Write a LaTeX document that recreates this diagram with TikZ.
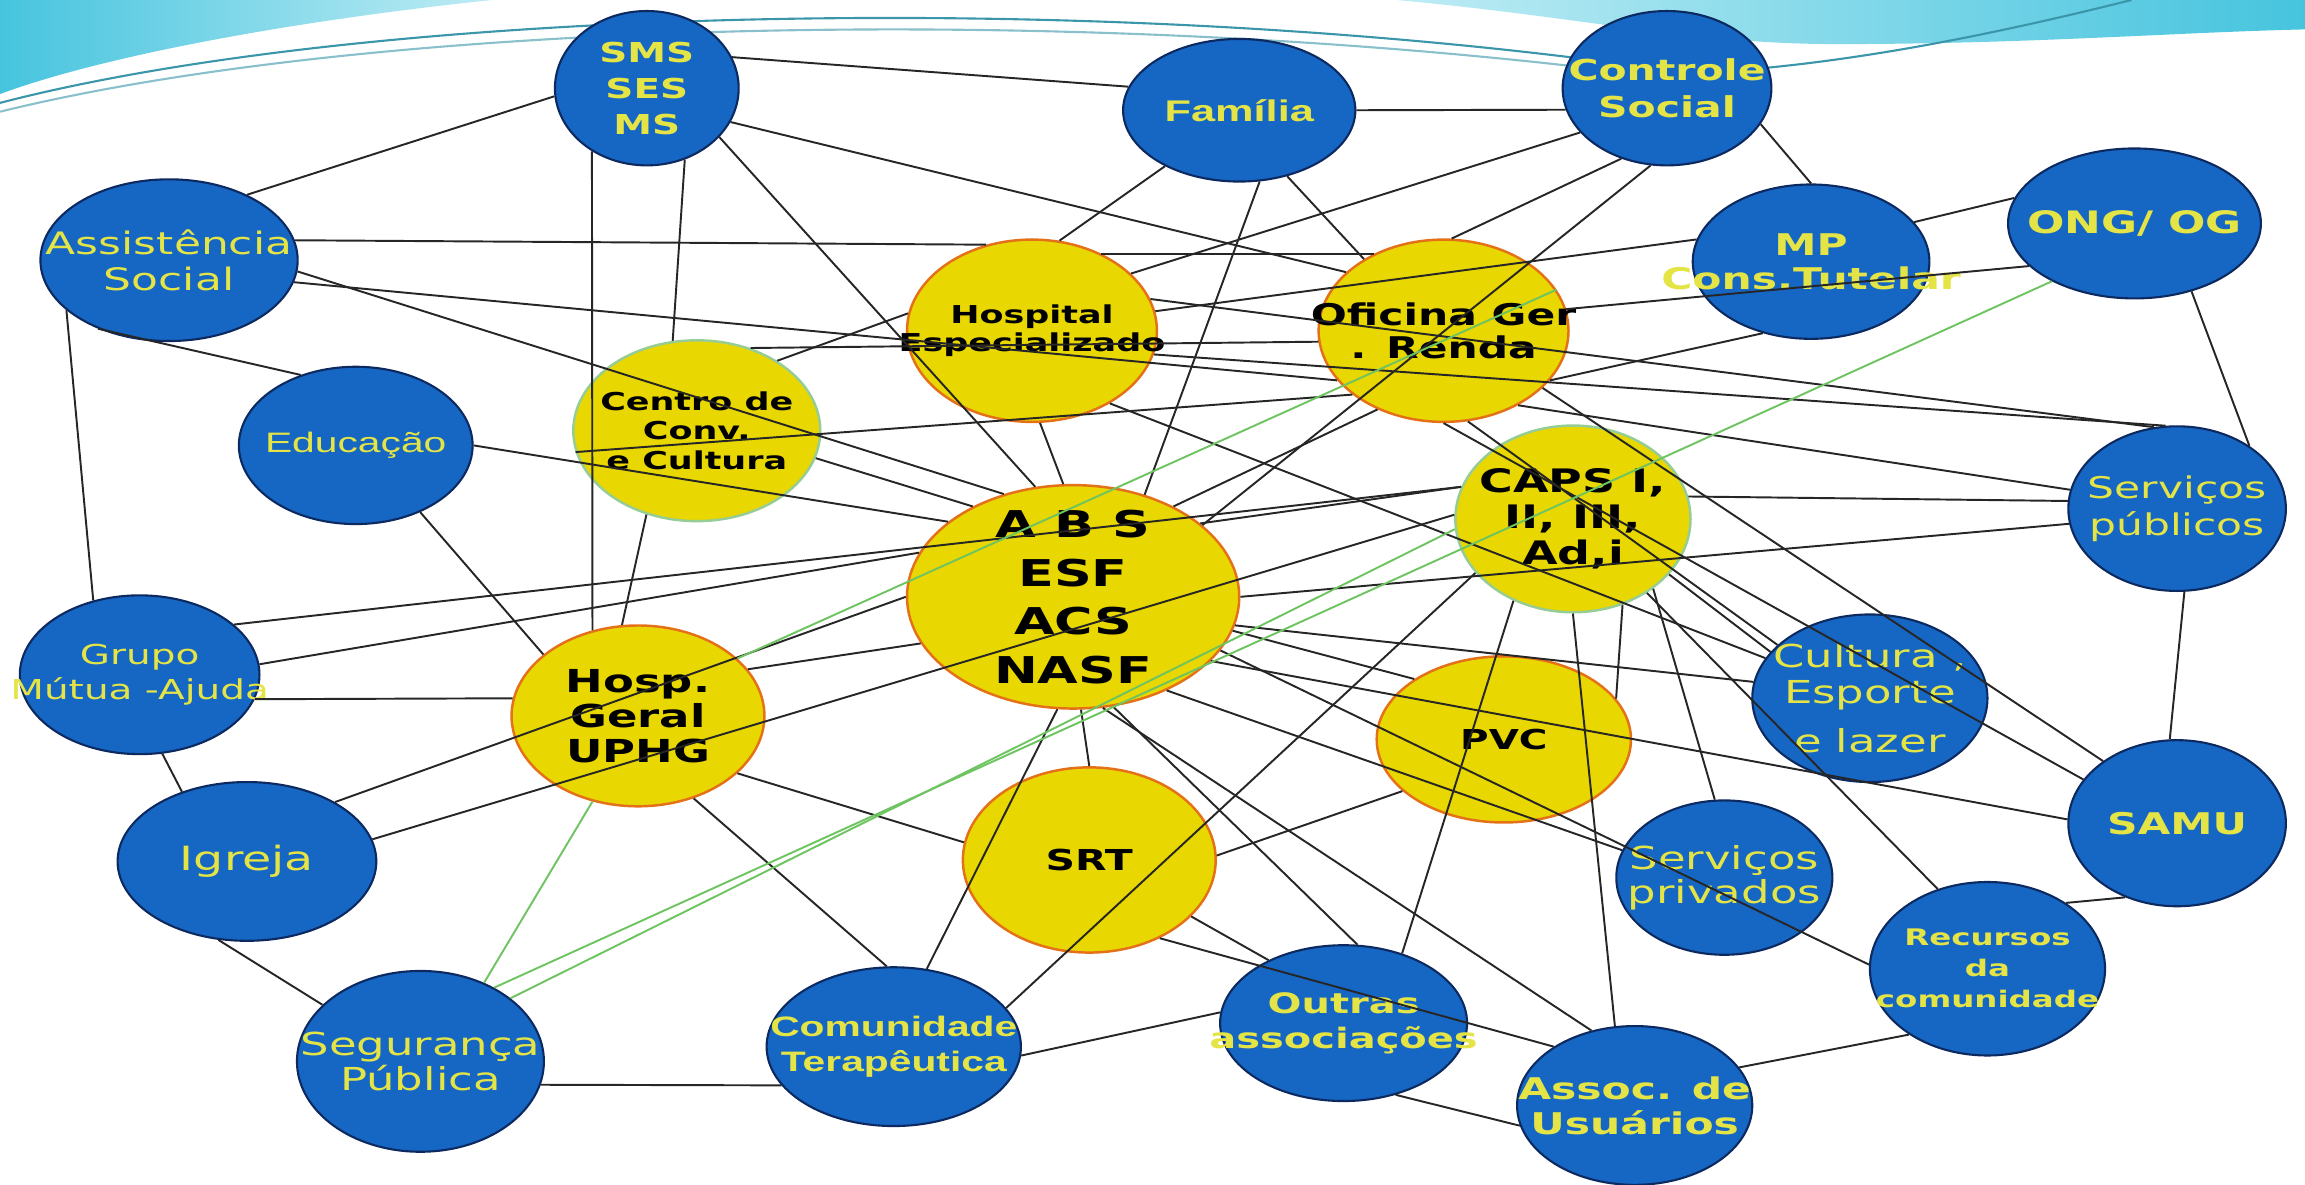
\documentclass[tikz,border=0pt]{standalone}
\usepackage{fontspec}
\usepackage{tikz}
\usetikzlibrary{shapes.geometric}
\newfontfamily\vfont[FakeStretch=1.42]{DejaVu Sans}
\newfontfamily\afont[FakeStretch=1.45]{Liberation Sans}

\definecolor{nodeblue}{RGB}{22,102,196}
\definecolor{nodeedge}{RGB}{12,42,96}
\definecolor{labelyellow}{RGB}{228,228,70}
\definecolor{nodeyellow}{RGB}{232,215,0}
\definecolor{ringorange}{RGB}{228,112,24}
\definecolor{ringgreen}{RGB}{150,205,150}
\definecolor{linkgreen}{RGB}{110,196,96}
\definecolor{swooshcyan}{RGB}{70,196,222}
\definecolor{swooshpale}{RGB}{190,236,244}
\definecolor{swooshteal}{RGB}{60,150,170}

\begin{document}
\begin{tikzpicture}[
    x=0.0147cm, y=-0.0147cm,
    ellsize/.style 2 args={minimum width=#1*0.0147cm, minimum height=#2*0.0147cm},
    bnode/.style={ellipse, draw=nodeedge, fill=nodeblue, line width=0.6pt, inner sep=0pt},
    ynode/.style={ellipse, draw=ringorange, fill=nodeyellow, line width=0.7pt, inner sep=0pt},
    gring/.style={draw=ringgreen},
    btext/.style={text=labelyellow, align=center, inner sep=0pt},
    ytext/.style={text=black, align=center, inner sep=0pt},
    vb/.style 2 args={font=\vfont\bfseries\fontsize{#1}{#2}\selectfont},
    vr/.style 2 args={font=\vfont\fontsize{#1}{#2}\selectfont},
    ab/.style 2 args={font=\afont\bfseries\fontsize{#1}{#2}\selectfont},
    ar/.style 2 args={font=\afont\fontsize{#1}{#2}\selectfont},
    link/.style={draw=black!85, line width=0.55pt},
    glink/.style={draw=linkgreen, line width=0.55pt}
]
\useasboundingbox (0,0) rectangle (1568,806);

% Swooshes on top
\shade[left color=swooshcyan, right color=swooshpale] (0,0) -- (335,0) .. controls (200,14) and (70,38) .. (0,64) -- cycle;
\draw[swooshteal, line width=0.6pt] (0,70) .. controls (250,5) and (750,-10) .. (1150,50);
\draw[swooshteal!60, line width=0.6pt] (0,76) .. controls (260,12) and (750,0) .. (1150,55);
\shade[left color=swooshpale, right color=swooshcyan] (950,0) .. controls (1080,12) and (1150,30) .. (1250,30) .. controls (1380,30) and (1480,22) .. (1568,20) -- (1568,0) -- cycle;
\draw[swooshteal, line width=0.6pt] (1150,50) .. controls (1250,45) and (1350,25) .. (1450,0);

% Blue partners
\node[bnode, ellsize={125}{105}, label={[btext, vb={7.8}{10.2}]center:{SMS\\SES\\MS}}] (sms) at (440,60) {};
\node[bnode, ellsize={158}{97}, label={[btext, ab={8.5}{10}]center:{Família}}] (familia) at (843,75) {};
\node[bnode, ellsize={142}{105}, label={[btext, vb={8.2}{10.5}]center:{Controle\\Social}}] (controle) at (1134,60) {};
\node[bnode, ellsize={175}{110}, label={[btext, vr={8.8}{10.2}]center:{Assistência\\Social}}] (assist) at (115,177) {};
\node[bnode, ellsize={161}{105}, label={[btext, vb={8.5}{9.6}]center:{MP\\Cons.Tutelar}}] (mp) at (1232,178) {};
\node[bnode, ellsize={172}{102}, label={[btext, vb={8.8}{10}]center:{ONG/ OG}}] (ong) at (1452,152) {};
\node[bnode, ellsize={159}{107}, label={[btext, ar={8}{10}]center:{Educação}}] (educ) at (242,303) {};
\node[bnode, ellsize={148}{112}, label={[btext, vr={8.5}{10.5}]center:{Serviços\\públicos}}] (servpub) at (1481,346) {};
\node[bnode, ellsize={163}{108}, label={[btext, vr={7.8}{10}]center:{Grupo\\Mútua -Ajuda}}] (grupo) at (95,459) {};
\node[bnode, ellsize={160}{114}, label={[btext, vr={9}{10}]center:{Cultura ,\\Esporte\\[4pt]e lazer}}] (cultura) at (1272,475) {};
\node[bnode, ellsize={176}{108}, label={[btext, vr={9.5}{10}]center:{Igreja}}] (igreja) at (168,586) {};
\node[bnode, ellsize={148}{113}, label={[btext, vb={8.5}{10}]center:{SAMU}}] (samu) at (1481,560) {};
\node[bnode, ellsize={147}{105}, label={[btext, vr={9}{9.6}]center:{Serviços\\privados}}] (servpriv) at (1173,597) {};
\node[bnode, ellsize={160}{118}, label={[btext, vb={6.5}{8.8}]center:{Recursos\\da\\comunidade}}] (recursos) at (1352,659) {};
\node[bnode, ellsize={168}{123}, label={[btext, vr={9}{10}]center:{Segurança\\Pública}}] (seg) at (286,722) {};
\node[bnode, ellsize={173}{108}, label={[btext, ab={8}{10}]center:{Comunidade\\Terapêutica}}] (comun) at (608,712) {};
\node[bnode, ellsize={168}{106}, label={[btext, vb={8}{10}]center:{Outras\\associações}}] (outras) at (914,696) {};
\node[bnode, ellsize={160}{108}, label={[btext, vb={8.5}{10}]center:{Assoc. de\\Usuários}}] (assocusu) at (1112,752) {};

% Yellow services
\node[ynode, ellsize={170}{124}, label={[ytext, vb={7}{8}]center:{Hospital\\Especializado}}] (hosp) at (702,225) {};
\node[ynode, ellsize={170}{124}, label={[ytext, vb={8.5}{9.5}]center:{Oficina Ger\\. Renda}}] (oficina) at (982,225) {};
\node[ynode, gring, ellsize={168}{123}, label={[ytext, vb={7}{8.3}]center:{Centro de\\Conv.\\e Cultura}}] (centro) at (474,293) {};
\node[ynode, ellsize={226}{152}, label={[ytext, vb={10.5}{13.8}]center:{A B S\\ESF\\ACS\\NASF}}] (abs) at (730,406) {};
\node[ynode, gring, ellsize={160}{127}, label={[ytext, vb={9.2}{10.2}]center:{CAPS I,\\II, III,\\Ad,i}}] (caps) at (1070,353) {};
\node[ynode, ellsize={172}{123}, label={[ytext, vb={9}{10}]center:{Hosp.\\Geral\\UPHG}}] (hospg) at (434,487) {};
\node[ynode, ellsize={173}{113}, label={[ytext, vb={7.8}{10}]center:{PVC}}] (pvc) at (1023,503) {};
\node[ynode, ellsize={172}{126}, label={[ytext, vb={8.2}{10}]center:{SRT}}] (srt) at (741,585) {};

% Links from the top row
\draw[link] (sms.20) -- (familia.168);
\draw[link] (sms.185) -- (assist.40);
\draw[link] (sms.338) -- (oficina.149);
\draw[link] (sms.326) -- (abs.109);
\draw[link] (sms.229) -- (hospg.118);
\draw[link] (sms.298) -- (centro.105);
\draw[link] (familia.east) -- (controle.192);
\draw[link] (familia.217) -- (hosp.73);
\draw[link] (familia.306) -- (oficina.138);
\draw[link] (familia.286) -- (abs.55);
\draw[link] (controle.207) -- (hosp.30);
\draw[link] (controle.237) -- (oficina.85);
\draw[link] (controle.258) -- (abs.29);
\draw[link] (controle.339) -- (mp.north);
\draw[link] (assist.9) -- (hosp.118);
\draw[link] (assist.355) -- (abs.124);
\draw[link] (assist.350) -- (oficina.205);
\draw[link] (assist.224) -- (educ.128);
\draw[link] (assist.206) -- (grupo.122);

% Hospital and Oficina
\draw[link] (hosp.172) -- (centro.41);
\draw[link] (hosp.275) -- (abs.95);
\draw[link] (hosp.48) -- (oficina.132);
\draw[link] (hosp.9) -- (mp.169);
\draw[link] (hosp.15) -- (servpub.106);
\draw[link] (hosp.349) -- (servpub.98);
\draw[link] (hosp.317) -- (cultura.159);
\draw[link] (centro.57) -- (oficina.185);
\draw[link] (centro.190) -- (oficina.215);
\draw[link] (oficina.230) -- (abs.42);
\draw[link] (oficina.335) -- (mp.236);
\draw[link] (oficina.315) -- (servpub.170);
\draw[link] (oficina.330) -- (samu.140);
\draw[link] (oficina.285) -- (cultura.150);
\draw[link] (oficina.south) -- (samu.155);
\draw[link] (mp.21) -- (ong.168);
\draw[link] (ong.202) -- (oficina.10);
\draw[link] (ong.310) -- (servpub.41);
\draw[link] (caps.11) -- (servpub.176);
\draw[link] (servpub.275) -- (samu.95);

% Left side
\draw[link] (educ.east) -- (abs.149);
\draw[link] (educ.314) -- (hospg.147);
\draw[link] (centro.347) -- (abs.138);
\draw[link] (centro.239) -- (hospg.100);
\draw[link] (grupo.28) -- (caps.164);
\draw[link] (grupo.5) -- (abs.164);
\draw[link] (grupo.348) -- (hospg.172);
\draw[link] (grupo.286) -- (igreja.133);
\draw[link] (igreja.34) -- (abs.west);
\draw[link] (igreja.10) -- (caps.178);
\draw[link] (igreja.250) -- (seg.150);
\draw[link] (hospg.23) -- (abs.197);
\draw[link] (hospg.330) -- (srt.172);
\draw[link] (hospg.304) -- (comun.95);

% Spokes of the centre
\draw[link] (abs.east) -- (servpub.188);
\draw[link] (abs.30) -- (caps.164);
\draw[link] (abs.274) -- (srt.north);
\draw[link] (abs.290) -- (outras.80);
\draw[link] (abs.285) -- (assocusu.120);
\draw[link] (abs.315) -- (servpriv.165);
\draw[link] (abs.340) -- (recursos.178);
\draw[link] (abs.335) -- (samu.178);
\draw[link] (abs.348) -- (pvc.146);
\draw[link] (abs.350) -- (cultura.172);
\draw[link] (abs.262) -- (comun.67);

% Bottom row
\draw[link] (srt.2) -- (pvc.207);
\draw[link] (srt.331) -- (outras.140);
\draw[link] (srt.312) -- (assocusu.144);
\draw[link] (comun.19) -- (caps.209);
\draw[link] (comun.356) -- (outras.175);
\draw[link] (seg.349) -- (comun.199);
\draw[link] (outras.50) -- (caps.234);
\draw[link] (outras.306) -- (assocusu.190);
\draw[link] (caps.south) -- (assocusu.104);
\draw[link] (caps.319) -- (servpriv.97);
\draw[link] (caps.330) -- (cultura.155);
\draw[link] (caps.300) -- (pvc.20);
\draw[link] (caps.315) -- (recursos.122);
\draw[link] (samu.235) -- (recursos.40);
\draw[link] (assocusu.20) -- (recursos.220);

% Green links
\draw[glink] (seg.51) -- (hospg.242);
\draw[glink] (seg.45) -- (ong.215);
\draw[glink] (seg.35) -- (caps.185);
\draw[glink] (hospg.30) -- (oficina.20);

\end{tikzpicture}
\end{document}
